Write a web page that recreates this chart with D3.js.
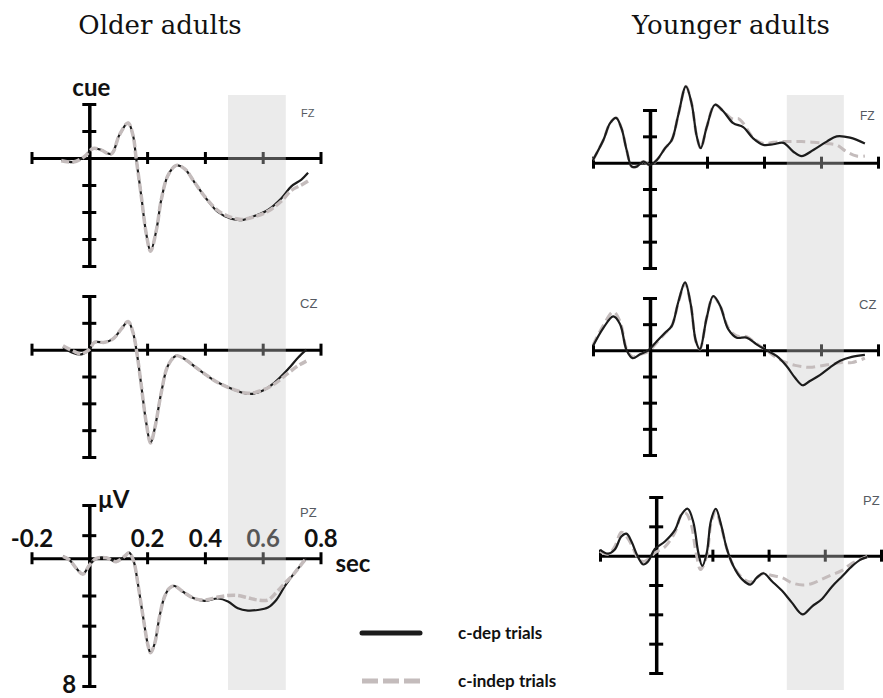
<!DOCTYPE html>
<html>
<head>
<meta charset="utf-8">
<script src="https://cdn.jsdelivr.net/npm/d3@7"></script>
<style>
  body { margin: 0; background: #fff; }
  svg { display: block; }
  .lbl { font-family: Lato, "Open Sans", sans-serif; font-weight: bold; fill: #111; }
  .title { font-family: "DejaVu Serif", serif; fill: #111; }
  .elec { font-family: "Liberation Sans", Arial, sans-serif; fill: #555a62; }
</style>
</head>
<body>
<svg width="883" height="698"></svg>
<script>
// [tempo (s), amplitude (uV)] - negativo para cima
var oldFzDep = [[-0.097,0.1],[-0.055,0.3],[-0.017,-0.1],[0.013,-0.7],[0.04,-0.6],[0.076,-0.3],[0.104,-1.7],[0.134,-2.6],[0.151,-1.7],[0.162,0],[0.18,2.85],[0.197,5.6],[0.212,6.9],[0.232,5.35],[0.249,3.1],[0.272,1.3],[0.301,0.55],[0.33,0.8],[0.364,1.8],[0.399,2.85],[0.445,4.0],[0.491,4.5],[0.526,4.6],[0.571,4.3],[0.618,3.85],[0.664,3.0],[0.699,2.1],[0.734,1.6],[0.757,1.1]];
var oldFzIndep = [[-0.097,0.2],[-0.055,0.3],[-0.017,-0.1],[0.013,-0.7],[0.04,-0.6],[0.076,-0.3],[0.104,-1.7],[0.134,-2.6],[0.151,-1.7],[0.162,0],[0.18,2.85],[0.197,5.6],[0.212,6.9],[0.232,5.35],[0.249,3.1],[0.272,1.3],[0.301,0.55],[0.33,0.8],[0.364,1.8],[0.399,2.85],[0.445,3.9],[0.491,4.4],[0.526,4.55],[0.571,4.35],[0.618,3.95],[0.664,3.2],[0.699,2.4],[0.734,2.0],[0.757,1.7]];

var oldCzDep = [[-0.091,-0.2],[-0.056,0.25],[-0.028,0.35],[0,0],[0.018,-0.55],[0.053,-0.55],[0.082,-0.8],[0.111,-1.55],[0.134,-2.1],[0.151,-1.3],[0.166,0.45],[0.18,2.7],[0.197,5.45],[0.212,6.95],[0.228,5.7],[0.249,3.2],[0.272,1.2],[0.301,0.45],[0.33,0.7],[0.364,1.25],[0.399,1.8],[0.445,2.45],[0.503,3.0],[0.549,3.3],[0.595,3.1],[0.641,2.45],[0.688,1.45],[0.722,0.6],[0.751,0]];
var oldCzIndep = [[-0.091,-0.3],[-0.056,0.1],[-0.028,0.3],[0,0],[0.018,-0.55],[0.053,-0.55],[0.082,-0.8],[0.111,-1.55],[0.134,-2.1],[0.151,-1.3],[0.166,0.45],[0.18,2.7],[0.197,5.45],[0.212,6.95],[0.228,5.7],[0.249,3.2],[0.272,1.2],[0.301,0.45],[0.33,0.7],[0.364,1.25],[0.399,1.8],[0.445,2.45],[0.503,3.0],[0.549,3.25],[0.595,3.05],[0.641,2.55],[0.688,1.75],[0.722,1.2],[0.751,0.85]];

var oldPzDep = [[-0.091,-0.6],[-0.068,-0.35],[-0.045,0.2],[-0.022,0.58],[0,0],[0.024,-0.46],[0.059,-0.5],[0.093,-0.24],[0.122,-0.6],[0.138,-0.84],[0.154,-0.24],[0.168,1.2],[0.186,3.4],[0.203,5.3],[0.212,5.8],[0.226,5.2],[0.243,3.4],[0.26,2.1],[0.278,1.5],[0.295,1.37],[0.324,1.75],[0.364,2.2],[0.399,2.36],[0.445,2.2],[0.48,2.4],[0.514,2.85],[0.549,3.0],[0.583,2.96],[0.618,2.8],[0.647,2.3],[0.676,1.4],[0.704,0.65],[0.727,0.1],[0.75,-0.46]];
var oldPzIndep = [[-0.091,-0.6],[-0.068,-0.35],[-0.045,0.2],[-0.022,0.58],[0,0],[0.024,-0.46],[0.059,-0.5],[0.093,-0.24],[0.122,-0.6],[0.138,-0.84],[0.154,-0.24],[0.168,1.2],[0.186,3.4],[0.203,5.3],[0.212,5.8],[0.226,5.2],[0.243,3.4],[0.26,2.1],[0.278,1.5],[0.295,1.37],[0.324,1.75],[0.364,2.2],[0.399,2.3],[0.445,2.1],[0.48,2.0],[0.514,2.0],[0.549,2.15],[0.583,2.3],[0.618,2.3],[0.647,1.8],[0.676,1.2],[0.704,0.65],[0.727,0.1],[0.75,-0.46]];

var youFzDep = [[-0.2,-0.2],[-0.164,-1.7],[-0.14,-3.0],[-0.119,-3.4],[-0.1,-2.6],[-0.082,-0.96],[-0.064,0.3],[-0.047,0.3],[-0.023,-0.08],[0,0.18],[0.024,-0.2],[0.053,-1.1],[0.076,-1.7],[0.1,-3.7],[0.126,-5.8],[0.146,-4.5],[0.164,-2.0],[0.178,-1.1],[0.199,-2.7],[0.228,-4.4],[0.257,-3.9],[0.292,-3.0],[0.327,-2.7],[0.362,-1.85],[0.398,-1.35],[0.433,-1.4],[0.468,-1.5],[0.503,-0.83],[0.532,-0.5],[0.573,-0.96],[0.62,-1.6],[0.655,-2.0],[0.702,-1.9],[0.754,-1.45]];
var youFzIndep = [[-0.2,-0.2],[-0.164,-1.7],[-0.14,-3.0],[-0.119,-3.4],[-0.1,-2.6],[-0.082,-0.96],[-0.064,0.3],[-0.047,0.3],[-0.023,-0.08],[0,0.18],[0.024,-0.2],[0.053,-1.1],[0.076,-1.7],[0.1,-3.7],[0.126,-5.8],[0.146,-4.5],[0.164,-2.0],[0.178,-1.1],[0.199,-2.7],[0.228,-4.4],[0.257,-3.9],[0.292,-3.3],[0.31,-3.35],[0.327,-3.0],[0.362,-1.9],[0.398,-1.45],[0.433,-1.55],[0.468,-1.6],[0.503,-1.6],[0.532,-1.6],[0.573,-1.55],[0.62,-1.45],[0.655,-1.34],[0.69,-0.83],[0.725,-0.5],[0.754,-0.5]];

var youCzDep = [[-0.2,-0.33],[-0.164,-1.7],[-0.129,-2.6],[-0.105,-2.0],[-0.082,0],[-0.061,0.6],[-0.035,0.3],[-0.006,0],[0.024,-0.7],[0.053,-1.35],[0.076,-1.85],[0.1,-3.75],[0.123,-5.2],[0.143,-3.5],[0.161,-0.7],[0.175,-0.08],[0.199,-2.5],[0.222,-4.15],[0.246,-3.4],[0.275,-1.6],[0.304,-0.97],[0.339,-0.97],[0.374,-0.46],[0.409,0],[0.444,0.43],[0.479,1.2],[0.509,2.1],[0.536,2.67],[0.561,2.34],[0.596,1.9],[0.632,1.3],[0.667,0.8],[0.708,0.5],[0.754,0.35]];
var youCzIndep = [[-0.2,-0.4],[-0.164,-1.9],[-0.129,-2.95],[-0.105,-2.2],[-0.082,-0.1],[-0.061,0.5],[-0.035,0.3],[-0.006,0.1],[0.024,-0.6],[0.053,-1.3],[0.076,-1.85],[0.1,-3.7],[0.123,-5.1],[0.143,-3.5],[0.161,-0.7],[0.175,-0.1],[0.199,-2.5],[0.222,-4.1],[0.246,-3.4],[0.275,-1.7],[0.304,-1.1],[0.339,-1.05],[0.374,-0.5],[0.409,0],[0.444,0.56],[0.479,0.95],[0.509,1.15],[0.536,1.25],[0.561,1.3],[0.596,1.2],[0.632,1.07],[0.667,0.94],[0.708,0.94],[0.754,0.6]];

var youPzDep = [[-0.2,-0.4],[-0.171,-0.14],[-0.148,-0.4],[-0.124,-1.3],[-0.106,-1.5],[-0.088,-0.97],[-0.067,0],[-0.046,0.6],[-0.029,0.4],[-0.005,-0.45],[0.031,-0.97],[0.067,-1.76],[0.09,-2.8],[0.112,-3.2],[0.132,-2.3],[0.15,-0.2],[0.164,0.7],[0.18,-0.2],[0.195,-2.4],[0.212,-3.2],[0.231,-2.1],[0.251,-0.5],[0.275,0.72],[0.305,1.6],[0.335,1.97],[0.358,1.5],[0.382,1.2],[0.412,1.74],[0.448,2.4],[0.483,3.2],[0.521,4.0],[0.555,3.45],[0.59,2.95],[0.626,2.1],[0.662,1.4],[0.698,0.7],[0.727,0.27],[0.751,0.1]];
var youPzIndep = [[-0.2,-0.3],[-0.171,-0.1],[-0.148,-0.6],[-0.124,-1.6],[-0.106,-1.3],[-0.088,-0.75],[-0.067,0.1],[-0.046,0.4],[-0.029,0.25],[-0.005,-0.2],[0.031,-0.6],[0.067,-1.6],[0.09,-2.8],[0.105,-2.9],[0.125,-2.1],[0.14,-0.4],[0.158,0.95],[0.18,0],[0.195,-2.2],[0.212,-3.0],[0.231,-2.0],[0.251,-0.5],[0.275,0.7],[0.305,1.5],[0.335,1.8],[0.358,1.5],[0.382,1.2],[0.412,1.35],[0.448,1.5],[0.483,1.85],[0.521,2.0],[0.555,1.9],[0.59,1.6],[0.626,1.3],[0.662,1.0],[0.698,0.5],[0.727,0.25],[0.751,0.05]];

var titulos = ["Older adults", "Younger adults"];
var eletrodos = ["FZ", "CZ", "PZ"];
var xTicks = [-0.2, 0.2, 0.4, 0.6, 0.8];
var xTickLabels = ["-0.2", "0.2", "0.4", "0.6", "0.8"];
var yTicks = [-4, -2, 2, 4, 6, 8];
var janela = [0.48, 0.68];
var legenda = ["c-dep trials", "c-indep trials"];

var svg = d3.select("svg");
svg.append("rect").attr("width", 883).attr("height", 698).attr("fill", "#fff");

// layout de cada painel
var paineis = [
  {col: 0, el: 0, dep: oldFzDep, indep: oldFzIndep, xr: [31.5, 320.5], yr: [104, 266], eixo: 0, lx: 301, ly: 117, fs: 11},
  {col: 0, el: 1, dep: oldCzDep, indep: oldCzIndep, xr: [31.5, 320.5], yr: [296, 457], eixo: 0, lx: 300, ly: 308, fs: 13},
  {col: 0, el: 2, dep: oldPzDep, indep: oldPzIndep, xr: [31.5, 320.5], yr: [505, 686], eixo: -0.47, lx: 300, ly: 517, fs: 13},
  {col: 1, el: 0, dep: youFzDep, indep: youFzIndep, xr: [593, 878], yr: [110, 268], eixo: 0, lx: 860, ly: 120, fs: 12},
  {col: 1, el: 1, dep: youCzDep, indep: youCzIndep, xr: [593, 878], yr: [298, 455], eixo: 0, lx: 859, ly: 309, fs: 13},
  {col: 1, el: 2, dep: youPzDep, indep: youPzIndep, xr: [600, 881], yr: [497, 673], eixo: 0, lx: 863, ly: 505, fs: 13}
];

paineis.forEach(function (p) {
  p.x = d3.scaleLinear().domain([-0.2, 0.8]).range(p.xr);
  p.y = d3.scaleLinear().domain([-4, 8]).range(p.yr);
});

// titulos
svg.selectAll(".title").data(titulos).enter().append("text")
  .attr("class", "title")
  .attr("x", function (d, i) { return i == 0 ? 160 : 731; })
  .attr("y", 34)
  .attr("text-anchor", "middle")
  .style("font-size", "26px")
  .text(function (d) { return d; });

function drawAxes(p) {
  var g = svg.append("g");
  var yEixo = p.y(p.eixo);

  var ax = g.append("g").attr("transform", "translate(0," + yEixo + ")")
    .call(d3.axisBottom(p.x).tickValues(xTicks).tickSize(12).tickSizeOuter(0)
      .tickFormat(function (d, i) { return (p.col == 0 && p.el == 2) ? xTickLabels[i] : ""; }));
  ax.select(".domain").attr("stroke", "#000").attr("stroke-width", 3);
  ax.selectAll(".tick line").attr("y1", -6).attr("y2", 6).attr("stroke", "#000").attr("stroke-width", 3);
  ax.selectAll(".tick text").attr("y", -11).attr("dy", 0)
    .attr("class", "lbl").style("font-size", "24px").attr("fill", "#111");

  var ay = g.append("g").attr("transform", "translate(" + p.x(0) + ",0)")
    .call(d3.axisLeft(p.y).tickValues(yTicks).tickSize(14).tickSizeOuter(0).tickFormat(""));
  ay.select(".domain").attr("stroke", "#000").attr("stroke-width", 3.5);
  ay.selectAll(".tick line").attr("x1", -7).attr("x2", 7).attr("stroke", "#000").attr("stroke-width", 3);
}

paineis.forEach(drawAxes);

// textos do eixo (painel PZ idosos)
var pz = paineis[2];
svg.append("text").attr("class", "lbl").attr("x", pz.x(0) + 9).attr("y", 508)
  .style("font-size", "24px").text("\u03bcV");
svg.append("text").attr("class", "lbl").attr("x", pz.x(0.8) + 15).attr("y", 572)
  .style("font-size", "24px").text("sec");
svg.append("text").attr("class", "lbl").attr("x", pz.x(0) - 20).attr("y", 693)
  .attr("text-anchor", "middle").style("font-size", "24px").text("8");
svg.append("text").attr("class", "lbl").attr("x", paineis[0].x(0) + 2).attr("y", 96)
  .attr("text-anchor", "middle").style("font-size", "24px").text("cue");

// janela cinza
[paineis[0], paineis[3]].forEach(function (p) {
  svg.append("rect")
    .attr("x", p.x(janela[0]))
    .attr("width", p.x(janela[1]) - p.x(janela[0]))
    .attr("y", 95).attr("height", 595)
    .attr("fill", "rgb(202,202,202)").attr("fill-opacity", 0.38);
});

var linha = d3.line().curve(d3.curveCatmullRom.alpha(0.5));

function drawCurves(p) {
  var g = svg.append("g");
  linha.x(function (d) { return p.x(d[0]); }).y(function (d) { return p.y(d[1]); });

  var solida = function () {
    g.append("path").attr("d", linha(p.dep)).attr("fill", "none")
      .attr("stroke", "#1c1c1c").attr("stroke-width", 2.2);
  };
  var tracejada = function (w) {
    g.append("path").attr("d", linha(p.indep)).attr("fill", "none")
      .attr("stroke", "#c4bcbc").attr("stroke-width", w)
      .attr("stroke-dasharray", p.col == 0 ? "8,3" : "9,5");
  };

  if (p.col == 0) {
    solida();
    tracejada(3.5);
  } else {
    tracejada(3);
    solida();
  }

  svg.append("text").attr("class", "elec")
    .attr("x", p.lx).attr("y", p.ly)
    .style("font-size", p.fs + "px")
    .text(eletrodos[p.el]);
}

paineis.forEach(drawCurves);

// legenda
var leg = svg.append("g");
leg.append("line").attr("x1", 362).attr("x2", 420).attr("y1", 633).attr("y2", 633)
  .attr("stroke", "#1c1c1c").attr("stroke-width", 5).attr("stroke-linecap", "round");
leg.append("line").attr("x1", 362).attr("x2", 420).attr("y1", 681).attr("y2", 681)
  .attr("stroke", "#c4bcbc").attr("stroke-width", 5).attr("stroke-dasharray", "16,5");
leg.selectAll("text.leg").data(legenda).enter().append("text")
  .attr("class", "lbl leg")
  .attr("x", 458)
  .attr("y", function (d, i) { return 639 + i * 48; })
  .style("font-size", "17px")
  .text(function (d) { return d; });
</script>
</body>
</html>
